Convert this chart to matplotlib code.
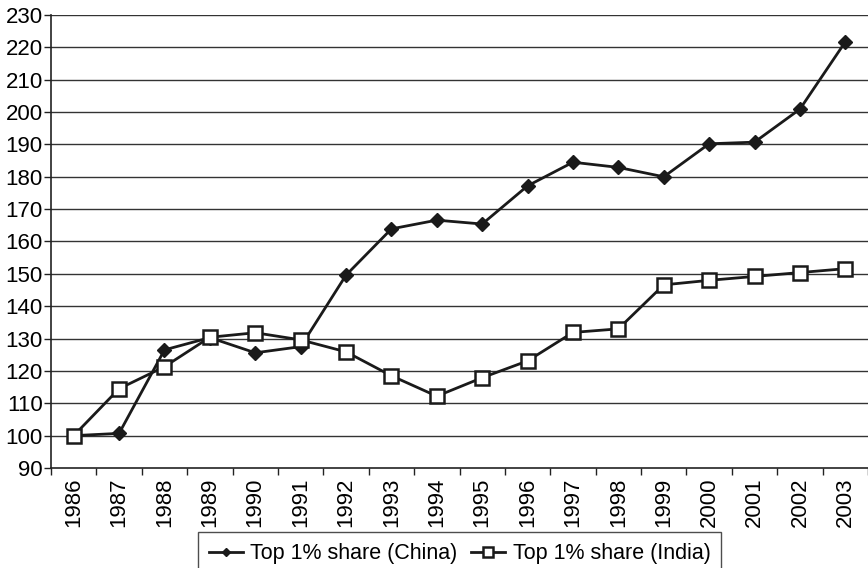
import matplotlib
matplotlib.use("Agg")
import matplotlib.pyplot as plt
import numpy as np

years = [str(y) for y in range(1986, 2004)]
china = [100, 100.7, 126.5, 130.3, 125.6, 127.5, 149.6, 163.9, 166.6, 165.4,
         177.2, 184.5, 182.9, 180.0, 190.2, 190.7, 200.9, 221.7]
india = [100, 114.5, 121.3, 130.4, 131.8, 129.6, 125.9, 118.5, 112.2, 117.9,
         123.1, 131.9, 133.0, 146.6, 148.0, 149.2, 150.4, 151.6]
yticks = list(range(90, 231, 10))

plt.rcParams['font.family'] = ['Liberation Sans', 'DejaVu Sans']

W, H = 868, 568
fig = plt.figure(figsize=(W / 100, H / 100), dpi=100)
ax = fig.add_axes([51 / W, (H - 468) / H, (868 - 51) / W, (468 - 15) / H])

x = np.arange(len(years))
l1, = ax.plot(x, china, color='#1a1a1a', lw=2, marker='D', ms=7,
              mfc='#1a1a1a', mec='#1a1a1a', label='Top 1% share (China)', zorder=3)
l2, = ax.plot(x, india, color='#1a1a1a', lw=2, marker='s', ms=10,
              mfc='white', mec='#1a1a1a', mew=1.8, label='Top 1% share (India)', zorder=4)

ax.set_xlim(-0.5, len(years) - 0.5)
ax.set_ylim(90, 230)
ax.set_yticks(yticks)
ax.set_yticklabels([str(v) for v in yticks], fontsize=16)
ax.set_xticks(x)
ax.set_xticklabels(years, rotation=90, fontsize=16)
ax.xaxis.set_minor_locator(matplotlib.ticker.FixedLocator(np.arange(-0.5, len(years), 1)))
ax.tick_params(axis='x', which='major', length=0, pad=7)
ax.tick_params(axis='x', which='minor', length=5, width=1, color='#222222')
ax.tick_params(axis='y', length=5, width=1, color='#222222', pad=1)

for v in yticks[1:]:
    ax.axhline(v, color='#333333', lw=1, zorder=1)

for s in ['top', 'right']:
    ax.spines[s].set_visible(False)
for s in ['left', 'bottom']:
    ax.spines[s].set_color('#222222')
    ax.spines[s].set_linewidth(1.2)

leg = fig.legend(handles=[l1, l2], loc='lower center', ncol=2,
                 bbox_to_anchor=(459.5 / W, -0.012), fontsize=15.5,
                 frameon=True, fancybox=False, edgecolor='#222222',
                 handlelength=1.6, handletextpad=0.35, columnspacing=0.6,
                 borderpad=0.5, borderaxespad=0.0, markerscale=0.65)
leg.get_frame().set_linewidth(1)

fig.savefig('out.png', dpi=100)
